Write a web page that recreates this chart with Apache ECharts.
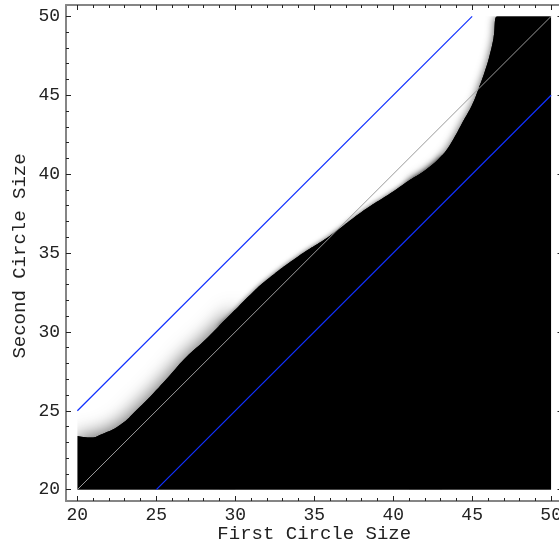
<!DOCTYPE html>
<html><head><meta charset="utf-8">
<script src="https://cdn.jsdelivr.net/npm/echarts@6/dist/echarts.min.js"></script>
<style>html,body{margin:0;padding:0;background:#fff}#c{width:559px;height:546px}</style>
</head><body><div id="c"></div>
<script>
// ---- data ----
const majorTicks = [20, 25, 30, 35, 40, 45, 50];
const minorTicks = [21, 22, 23, 24, 26, 27, 28, 29, 31, 32, 33, 34, 36, 37, 38, 39, 41, 42, 43, 44, 46, 47, 48, 49];
const axisMin = 19.28, axisMax = 50.72;
const dataMin = 20, dataMax = 50;
const xTitle = 'First Circle Size';
const yTitle = 'Second Circle Size';
// boundary of the black region (approx. 50% grey transition)
const edgeX = [20.0, 20.8, 21.5, 22.7, 23.8, 24.8, 25.9, 26.9, 28.0, 29.0, 30.0, 31.0, 32.0, 34.0, 36.0, 38.0, 40.0, 41.0, 42.1, 43.1, 43.8, 44.4, 45.0, 45.4, 45.8, 46.1, 46.35, 46.6, 50.0];
const edgeY = [23.4, 23.3, 23.5, 24.1, 25.1, 26.1, 27.3, 28.4, 29.4, 30.4, 31.4, 32.4, 33.3, 34.8, 36.1, 37.6, 38.9, 39.6, 40.3, 41.2, 42.2, 43.3, 44.4, 45.4, 46.5, 47.5, 48.6, 50.0, 50.0];
// parts of the boundary with a softer (wider) transition: [first index, last index, width in axis units]
const softLeft = [0, 10, 1.3];
const softMid = [9, 19, 0.35];
const softTop = [17, 28, 0.55];
const diagonal = [[20, 20], [50, 50]];
const upperLine = [[20, 25], [45, 50]];
const lowerLine = [[25, 20], [50, 45]];

// ---- chart ----
const FONT = "'Liberation Mono', 'DejaVu Sans Mono', monospace";
const chart = echarts.init(document.getElementById('c'), null, {renderer: 'canvas'});
const edgePoints = edgeX.map((x, i) => [x, edgeY[i]]);
const pxPerUnit = 496 / (axisMax - axisMin);

function makeAxis(dim, position, ticks, len, showLine, label, extra) {
  const ax = {
    type: 'value', position: position, min: axisMin, max: axisMax, z: 10,
    splitLine: {show: false},
    axisLine: {show: showLine, onZero: false, lineStyle: {color: '#858585', width: 2}},
    axisTick: {show: true, inside: true, length: len, customValues: ticks, lineStyle: {color: '#222', width: 1}},
    axisLabel: label ? {show: true, customValues: majorTicks, color: '#222', fontFamily: FONT, fontSize: 18, margin: dim === 'x' ? 5 : 6} : {show: false}
  };
  return Object.assign(ax, extra || {});
}

function areaSeries(part, z) {
  return {
    type: 'line', z: z, silent: true, smooth: 0.5, symbol: 'none',
    data: edgePoints.slice(part[0], part[1] + 1),
    lineStyle: {width: 0, color: '#000'},
    areaStyle: {color: '#000', opacity: 1, origin: dataMin,
      shadowBlur: part[2] * pxPerUnit, shadowColor: 'rgba(0,0,0,0.7)'}
  };
}

const option = {
  animation: false,
  backgroundColor: '#fff',
  grid: {left: 66, top: 5, right: -3.5, bottom: 45, containLabel: false, outerBoundsMode: 'none'},
  xAxis: [
    makeAxis('x', 'bottom', majorTicks, 5, true, true),
    makeAxis('x', 'bottom', minorTicks, 3, false, false, {
      name: xTitle, nameLocation: 'middle', nameGap: 33, nameMoveOverlap: false,
      nameTextStyle: {color: '#222', fontFamily: FONT, fontSize: 19, verticalAlign: 'middle'}
    }),
    makeAxis('x', 'top', majorTicks, 5, true, false),
    makeAxis('x', 'top', minorTicks, 3, false, false)
  ],
  yAxis: [
    makeAxis('y', 'left', majorTicks, 5, true, true),
    makeAxis('y', 'left', minorTicks, 3, false, false, {
      name: yTitle, nameLocation: 'middle', nameGap: 37, nameMoveOverlap: false,
      nameTextStyle: {color: '#222', fontFamily: FONT, fontSize: 19, padding: [0, 6, 0, 0]}
    }),
    makeAxis('y', 'right', majorTicks, 5, true, false),
    makeAxis('y', 'right', minorTicks, 3, false, false)
  ],
  series: [
    { // solid black region below the boundary
      type: 'line', z: 1, silent: true, smooth: 0.5, symbol: 'none',
      data: edgePoints,
      lineStyle: {width: 0, color: '#000'},
      areaStyle: {color: '#000', opacity: 1, origin: dataMin}
    },
    areaSeries(softLeft, 2),
    areaSeries(softMid, 2),
    areaSeries(softTop, 2),
    { // white frame padding outside the data range
      type: 'custom', z: 3, silent: true, clip: true,
      data: [[dataMin, dataMin]],
      renderItem: function (params, api) {
        const a = api.coord([axisMin, axisMax]), b = api.coord([axisMax, axisMin]);
        const c = api.coord([dataMin, dataMax]), d = api.coord([dataMax, dataMin]);
        const white = {fill: '#fff'};
        return {type: 'group', children: [
          {type: 'rect', shape: {x: a[0], y: a[1], width: c[0] - a[0], height: b[1] - a[1]}, style: white},
          {type: 'rect', shape: {x: d[0], y: a[1], width: b[0] - d[0] + 2, height: b[1] - a[1]}, style: white},
          {type: 'rect', shape: {x: a[0], y: a[1], width: b[0] - a[0], height: c[1] - a[1]}, style: white},
          {type: 'rect', shape: {x: a[0], y: d[1], width: b[0] - a[0], height: b[1] - d[1]}, style: white}
        ]};
      }
    },
    {type: 'line', z: 4, data: diagonal, symbol: 'none', silent: true,
      lineStyle: {color: '#9a9a9a', width: 1}},
    {type: 'line', z: 4, data: upperLine, symbol: 'none', silent: true,
      lineStyle: {color: '#1030ff', width: 1.2}},
    {type: 'line', z: 4, data: lowerLine, symbol: 'none', silent: true,
      lineStyle: {color: '#1030ff', width: 1.2}}
  ]
};
chart.setOption(option);
</script>
</body></html>
